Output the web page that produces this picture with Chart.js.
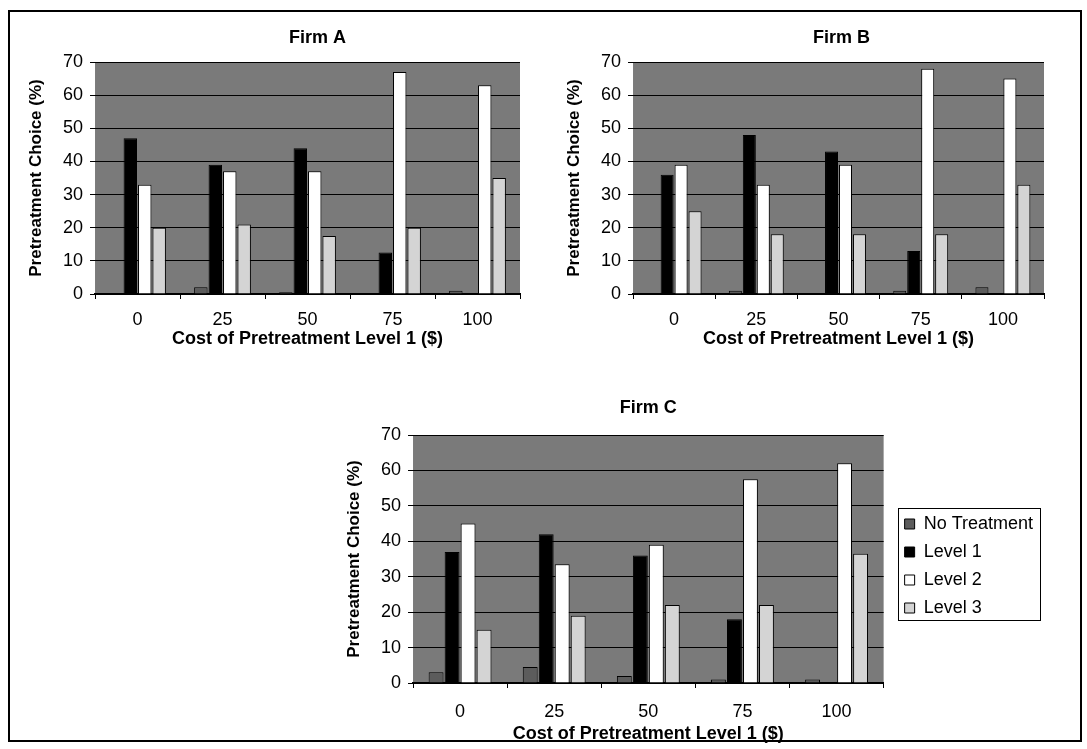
<!DOCTYPE html>
<html>
<head>
<meta charset="utf-8">
<script src="https://cdn.jsdelivr.net/npm/chart.js@4.4.0/dist/chart.umd.min.js"></script>
<style>
  body { margin: 0; background: #fff; }
  #frame { position: absolute; left: 8px; top: 10px; width: 1070px; height: 728px; border: 2px solid #000; }
  canvas { position: absolute; }
</style>
</head>
<body>
<div id="frame"></div>
<canvas id="chartA" width="509" height="328" style="left:15px;top:22px"></canvas>
<canvas id="chartB" width="495" height="328" style="left:553px;top:22px"></canvas>
<canvas id="chartC" width="719" height="350" style="left:333px;top:395px"></canvas>
<script>
// Данные графиков
var categories = ["0", "25", "50", "75", "100"];
var seriesNames = ["No Treatment", "Level 1", "Level 2", "Level 3"];
var yTicks = [0, 10, 20, 30, 40, 50, 60, 70];

var firmA_noTreatment = [0, 2, 0.5, 0, 1];
var firmA_level1 = [47, 39, 44, 12.5, 0];
var firmA_level2 = [33, 37, 37, 67, 63];
var firmA_level3 = [20, 21, 17.5, 20, 35];

var firmB_noTreatment = [0, 1, 0, 1, 2];
var firmB_level1 = [36, 48, 43, 13, 0];
var firmB_level2 = [39, 33, 39, 68, 65];
var firmB_level3 = [25, 18, 18, 18, 33];

var firmC_noTreatment = [3, 4.5, 2, 1, 1];
var firmC_level1 = [37, 42, 36, 18, 0];
var firmC_level2 = [45, 33.5, 39, 57.5, 62];
var firmC_level3 = [15, 19, 22, 22, 36.5];

var seriesColors = ["#5c5c5c", "#000000", "#ffffff", "#d4d4d4"];
var FONT = "'Liberation Sans', Arial, sans-serif";

// Серый фон области построения
var plotBackground = {
  id: "plotBackground",
  beforeDraw: function (chart) {
    var a = chart.chartArea;
    var ctx = chart.ctx;
    ctx.save();
    ctx.fillStyle = "#7a7a7a";
    ctx.fillRect(a.left, a.top, a.right - a.left, a.bottom - a.top);
    ctx.restore();
  }
};

// Заголовок по центру области построения, сдвиг легенды и рамка вокруг неё
var layoutTweaks = {
  id: "layoutTweaks",
  afterLayout: function (chart) {
    var t = chart.titleBlock;
    var a = chart.chartArea;
    var shift = (a.left + a.right) / 2 + (chart.options.titleShift || 0) - (t.left + t.right) / 2;
    t.left += shift;
    t.right += shift;
    var l = chart.legend;
    if (!l || !l.options.display) return;
    l.left += 11;
    l.right += 11;
    l.top -= 4;
    l.bottom -= 4;
  },
  afterDraw: function (chart) {
    var l = chart.legend;
    if (!l || !l.options.display || !l.legendHitBoxes.length) return;
    var x1 = Infinity, y1 = Infinity, x2 = -Infinity, y2 = -Infinity;
    l.legendHitBoxes.forEach(function (b) {
      x1 = Math.min(x1, b.left);
      y1 = Math.min(y1, b.top);
      x2 = Math.max(x2, b.left + b.width);
      y2 = Math.max(y2, b.top + b.height);
    });
    var ctx = chart.ctx;
    ctx.save();
    ctx.strokeStyle = "#000";
    ctx.lineWidth = 1;
    ctx.strokeRect(Math.round(x1 - 7) + 0.5, Math.round(y1 - 7) + 0.5, Math.round(x2 - x1 + 14), Math.round(y2 - y1 + 10));
    ctx.restore();
  }
};

function makeDatasets(values) {
  return values.map(function (v, i) {
    return {
      label: seriesNames[i],
      data: v,
      backgroundColor: seriesColors[i],
      borderColor: "#000",
      borderWidth: 1,
      categoryPercentage: 0.68,
      barPercentage: 0.93
    };
  });
}

function makeChart(id, title, values, showLegend, lay) {
  var ctx = document.getElementById(id).getContext("2d");
  return new Chart(ctx, {
    type: "bar",
    data: { labels: categories, datasets: makeDatasets(values) },
    options: {
      responsive: false,
      animation: false,
      titleShift: lay.titleShift,
      layout: { padding: { left: 4, right: lay.right, top: 0, bottom: 0 } },
      plugins: {
        title: {
          display: true,
          text: title,
          color: "#000",
          font: { family: FONT, size: 18, weight: "bold", lineHeight: 1 },
          padding: { top: lay.titleTop, bottom: lay.titleBottom }
        },
        legend: {
          display: showLegend,
          position: "right",
          labels: {
            color: "#000",
            font: { family: FONT, size: 18 },
            boxWidth: 10,
            boxHeight: 10,
            padding: 10
          }
        },
        tooltip: { enabled: false }
      },
      scales: {
        x: {
          grid: { display: true, drawOnChartArea: false, offset: true, color: "#000", tickLength: 5 },
          border: { color: "#000", width: 2 },
          ticks: { color: "#000", font: { family: FONT, size: 18, lineHeight: 1 }, padding: lay.xTickPad },
          title: {
            display: true,
            text: "Cost of Pretreatment Level 1 ($)",
            color: "#000",
            font: { family: FONT, size: 18, weight: "bold", lineHeight: 1 },
            padding: { top: lay.xTitleTop, bottom: 2 }
          }
        },
        y: {
          min: 0,
          max: 70,
          afterBuildTicks: function (axis) {
            axis.ticks = yTicks.map(function (v) { return { value: v }; });
          },
          grid: { color: "#000", lineWidth: 1, tickLength: 5 },
          border: { display: false },
          ticks: { color: "#000", font: { family: FONT, size: 18 }, padding: 7 },
          title: {
            display: true,
            text: "Pretreatment Choice (%)",
            color: "#000",
            font: { family: FONT, size: 17, weight: "bold", lineHeight: 1 },
            padding: { top: 9, bottom: 11 }
          }
        }
      }
    },
    plugins: [plotBackground, layoutTweaks]
  });
}

var layA = { right: 4, titleTop: 7, titleBottom: 15, xTickPad: 12, xTitleTop: -11, titleShift: 10 };
var layB = { right: 4, titleTop: 7, titleBottom: 15, xTickPad: 12, xTitleTop: -11, titleShift: 3 };
var layC = { right: 20, titleTop: 4, titleBottom: 18, xTickPad: 15, xTitleTop: -11, titleShift: 0 };

makeChart("chartA", "Firm A", [firmA_noTreatment, firmA_level1, firmA_level2, firmA_level3], false, layA);
makeChart("chartB", "Firm B", [firmB_noTreatment, firmB_level1, firmB_level2, firmB_level3], false, layB);
makeChart("chartC", "Firm C", [firmC_noTreatment, firmC_level1, firmC_level2, firmC_level3], true, layC);
</script>
</body>
</html>
